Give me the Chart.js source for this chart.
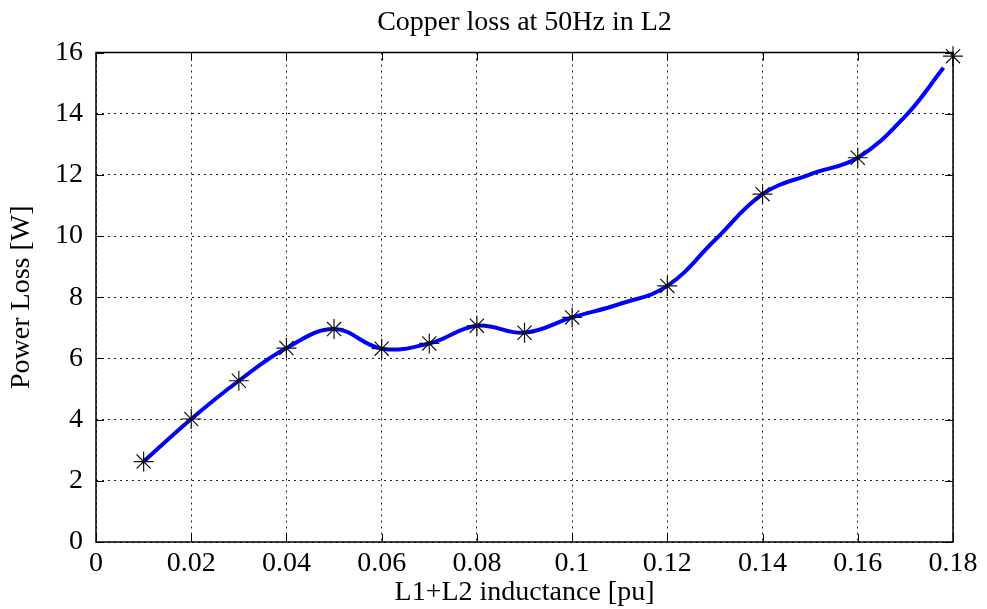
<!DOCTYPE html>
<html>
<head>
<meta charset="utf-8">
<title>Copper loss at 50Hz in L2</title>
<script src="https://cdn.jsdelivr.net/npm/chart.js@4/dist/chart.umd.min.js"></script>
<style>
    html, body { margin: 0; padding: 0; background: #fff; }
    #wrap { width: 987px; height: 609px; }
</style>
</head>
<body>
<div id="wrap"><canvas id="loss-chart" width="987" height="609"></canvas></div>
<script>
// Measured points (markers)
const inductance = [0.01, 0.02, 0.03, 0.04, 0.05, 0.06, 0.07, 0.08, 0.09, 0.10, 0.12, 0.14, 0.16, 0.18];
const powerLoss = [2.63, 4.02, 5.27, 6.34, 6.96, 6.32, 6.49, 7.07, 6.84, 7.34, 8.37, 11.37, 12.56, 15.88];

// Fitted curve, sampled along the drawn spline
const curveX = [0.01, 0.02, 0.03, 0.04, 0.05, 0.06, 0.07, 0.08, 0.09, 0.10, 0.11, 0.12, 0.13, 0.14, 0.15, 0.16, 0.17, 0.178];
const curveY = [2.63, 4.02, 5.27, 6.34, 6.96, 6.32, 6.49, 7.07, 6.84, 7.34, 7.78, 8.37, 9.87, 11.37, 12.02, 12.56, 13.92, 15.5];

// Axis ticks
const xTicks = [0, 0.02, 0.04, 0.06, 0.08, 0.1, 0.12, 0.14, 0.16, 0.18];
const xTickLabels = ['0', '0.02', '0.04', '0.06', '0.08', '0.1', '0.12', '0.14', '0.16', '0.18'];
const yTicks = [0, 2, 4, 6, 8, 10, 12, 14, 16];
const yTickLabels = ['0', '2', '4', '6', '8', '10', '12', '14', '16'];

const serif = '"Liberation Serif", "Times New Roman", serif';

// Box around the axes plus small inward tick marks on all four sides
const axesBox = {
    id: 'axesBox',
    afterDatasetsDraw(chart) {
        const { ctx, chartArea: a, scales } = chart;
        const len = 8;
        ctx.save();
        ctx.strokeStyle = '#000';
        ctx.lineWidth = 1;
        ctx.beginPath();
        xTicks.forEach(v => {
            const px = Math.round(scales.x.getPixelForValue(v)) + 0.5;
            ctx.moveTo(px, a.bottom); ctx.lineTo(px, a.bottom - len);
            ctx.moveTo(px, a.top); ctx.lineTo(px, a.top + len);
        });
        yTicks.forEach(v => {
            const py = Math.round(scales.y.getPixelForValue(v)) + 0.5;
            ctx.moveTo(a.left, py); ctx.lineTo(a.left + len, py);
            ctx.moveTo(a.right, py); ctx.lineTo(a.right - len, py);
        });
        ctx.stroke();
        ctx.lineWidth = 1.5;
        ctx.strokeRect(a.left, a.top, a.right - a.left, a.bottom - a.top);
        ctx.restore();
    }
};

const ctx = document.getElementById('loss-chart').getContext('2d');

new Chart(ctx, {
    type: 'line',
    data: {
        datasets: [
            {
                label: 'measured',
                data: inductance.map((x, i) => ({ x: x, y: powerLoss[i] })),
                showLine: false,
                pointStyle: 'star',
                pointRadius: 10,
                pointBorderWidth: 1.2,
                pointBorderColor: '#111',
                pointBackgroundColor: '#000',
                clip: false
            },
            {
                label: 'fit',
                data: curveX.map((x, i) => ({ x: x, y: curveY[i] })),
                borderColor: '#0000ff',
                borderWidth: 4,
                tension: 0.4,
                pointRadius: 0,
                fill: false
            }
        ]
    },
    options: {
        responsive: false,
        animation: false,
        events: [],
        layout: { padding: { left: 0, right: 34, top: 0, bottom: 0 } },
        plugins: {
            legend: { display: false },
            tooltip: { enabled: false },
            title: {
                display: true,
                fullSize: false,
                text: 'Copper loss at 50Hz in L2',
                color: '#000',
                font: { family: serif, size: 28, weight: 'normal' },
                padding: { top: 5.7, bottom: 13.2 }
            }
        },
        scales: {
            x: {
                type: 'linear',
                min: 0,
                max: 0.18,
                afterFit: s => { s.height = 67; },
                afterBuildTicks: s => { s.ticks = xTicks.map(v => ({ value: v })); },
                ticks: {
                    color: '#000',
                    padding: 5,
                    maxRotation: 0,
                    font: { family: serif, size: 28 },
                    callback: (v, i) => xTickLabels[i]
                },
                grid: {
                    color: '#222',
                    lineWidth: 1,
                    drawTicks: false
                },
                border: { display: false, dash: [2, 4] },
                title: {
                    display: true,
                    text: 'L1+L2 inductance [pu]',
                    color: '#000',
                    font: { family: serif, size: 28 },
                    padding: { top: 0, bottom: 0 }
                }
            },
            y: {
                type: 'linear',
                min: 0,
                max: 16,
                afterFit: s => { s.width = 96; },
                afterBuildTicks: s => { s.ticks = yTicks.map(v => ({ value: v })); },
                ticks: {
                    color: '#000',
                    padding: 13,
                    font: { family: serif, size: 28 },
                    callback: (v, i) => yTickLabels[i]
                },
                grid: {
                    color: '#222',
                    lineWidth: 1,
                    drawTicks: false
                },
                border: { display: false, dash: [2, 4] },
                title: {
                    display: true,
                    text: 'Power Loss [W]',
                    color: '#000',
                    font: { family: serif, size: 28 },
                    padding: { top: 4.7, bottom: 0 }
                }
            }
        }
    },
    plugins: [axesBox]
});
</script>
</body>
</html>
